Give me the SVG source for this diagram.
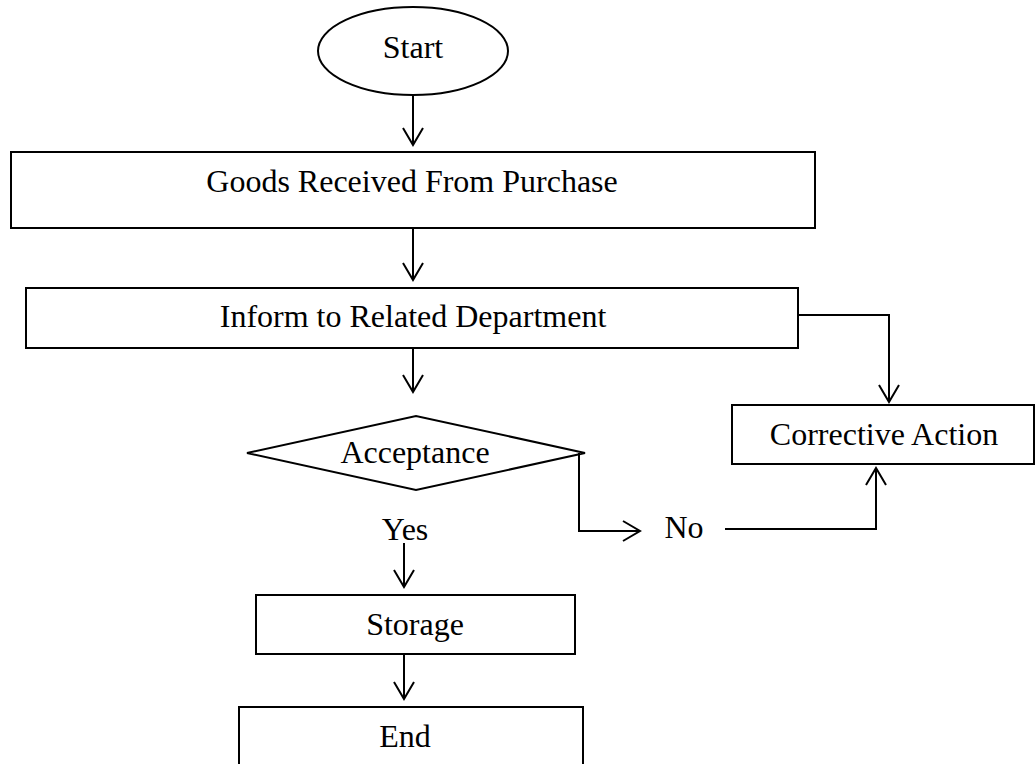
<svg xmlns="http://www.w3.org/2000/svg" width="1035" height="764" viewBox="0 0 1035 764">
  <style>
    .box { fill: #ffffff; stroke: #000000; stroke-width: 2; }
    .lbl { font-family: "Liberation Serif", "Times New Roman", serif; font-size: 32px; fill: #000000; text-anchor: middle; }
    .edge { fill: none; stroke: #000000; stroke-width: 2; }
  </style>
  <defs>
    <!-- open V arrowhead -->
    <marker id="arrow" markerUnits="userSpaceOnUse" markerWidth="40" markerHeight="40" viewBox="-20 -20 40 40" refX="0" refY="0" orient="auto" overflow="visible">
      <path d="M-17,-10 L0,0 L-17,10" fill="none" stroke="#000000" stroke-width="2"/>
    </marker>
  </defs>
  <rect width="1035" height="764" fill="#ffffff"/>

  <g id="start">
    <ellipse class="box" cx="413" cy="51" rx="95" ry="44"/>
    <text class="lbl" x="413" y="58">Start</text>
  </g>

  <g id="goods-received">
    <rect class="box" x="11" y="152" width="804" height="76"/>
    <text class="lbl" x="412" y="192">Goods Received From Purchase</text>
  </g>

  <g id="inform-department">
    <rect class="box" x="26" y="288" width="772" height="60"/>
    <text class="lbl" x="413" y="327">Inform to Related Department</text>
  </g>

  <g id="acceptance">
    <polygon class="box" points="247,453 416,416 585,453 416,490"/>
    <text class="lbl" x="415" y="463">Acceptance</text>
  </g>

  <g id="corrective-action">
    <rect class="box" x="732" y="405" width="302" height="59"/>
    <text class="lbl" x="884" y="445">Corrective Action</text>
  </g>

  <g id="storage">
    <rect class="box" x="256" y="595" width="319" height="59"/>
    <text class="lbl" x="415" y="635">Storage</text>
  </g>

  <g id="end">
    <rect class="box" x="239" y="707" width="344" height="80"/>
    <text class="lbl" x="405" y="747">End</text>
  </g>

  <g id="connectors">
    <path class="edge" d="M413,96 V145" marker-end="url(#arrow)"/>
    <path class="edge" d="M413,228 V280" marker-end="url(#arrow)"/>
    <path class="edge" d="M413,348 V392" marker-end="url(#arrow)"/>
    <path class="edge" d="M798,315 H889 V402" marker-end="url(#arrow)"/>
    <path class="edge" d="M579,453 V531 H640" marker-end="url(#arrow)"/>
    <path class="edge" d="M725,529 H876 V468" marker-end="url(#arrow)"/>
    <path class="edge" d="M404,543 V587" marker-end="url(#arrow)"/>
    <path class="edge" d="M404,654 V699" marker-end="url(#arrow)"/>
    <text class="lbl" x="405" y="540">Yes</text>
    <text class="lbl" x="684" y="538">No</text>
  </g>
</svg>
